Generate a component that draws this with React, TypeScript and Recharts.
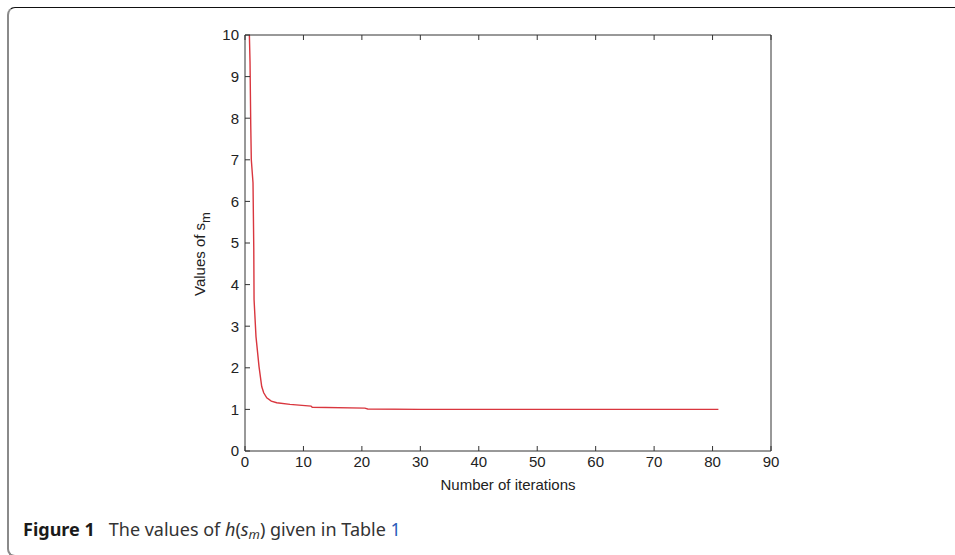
import React from "react";
import { LineChart, Line, XAxis, YAxis } from "recharts";

// Iteration positions and values of s_m
const iterX = [0.75, 0.86, 0.98, 1.08, 1.37, 1.5, 1.55, 1.88, 2.4, 2.86, 3.2, 3.72, 4.5, 5.43, 7.7, 11.3, 11.5, 20.5, 21, 30, 40, 50, 60, 70, 81];
const sValues = [10, 9.35, 7.86, 7.0, 6.45, 4.9, 3.64, 2.75, 2.03, 1.55, 1.4, 1.28, 1.2, 1.16, 1.12, 1.08, 1.05, 1.03, 1.01, 1.0, 1.0, 1.0, 1.0, 1.0, 1.0];
const xTicks = [0, 10, 20, 30, 40, 50, 60, 70, 80, 90];
const yTicks = [0, 1, 2, 3, 4, 5, 6, 7, 8, 9, 10];

const data = iterX.map((x, i) => ({ x, y: sValues[i] }));

const AXIS = "#333";
const FONT = "'Liberation Sans', Arial, Helvetica, sans-serif";
const FS = 15;
const TICK = 5;

const BottomTick = (p: any) => (
  <g>
    <line x1={p.x} x2={p.x} y1={p.y} y2={p.y - TICK} stroke={AXIS} />
    <text x={p.x} y={p.y + 5} dy="0.71em" textAnchor="middle" fontSize={FS} fill="#222" fontFamily={FONT}>
      {p.payload.value}
    </text>
  </g>
);
const TopTick = (p: any) => (
  <line x1={p.x} x2={p.x} y1={p.y} y2={p.y + TICK} stroke={AXIS} />
);
const LeftTick = (p: any) => (
  <g>
    <line x1={p.x} x2={p.x + TICK} y1={p.y} y2={p.y} stroke={AXIS} />
    <text x={p.x - 6} y={p.y} dy="0.36em" textAnchor="end" fontSize={FS} fill="#222" fontFamily={FONT}>
      {p.payload.value}
    </text>
  </g>
);
const RightTick = (p: any) => (
  <line x1={p.x} x2={p.x - TICK} y1={p.y} y2={p.y} stroke={AXIS} />
);

const XLabel = (props: any) => {
  const vb = props.viewBox;
  return (
    <text x={vb.x + vb.width / 2} y={vb.y + 39} textAnchor="middle" fontSize={FS} fill="#222" fontFamily={FONT}>
      Number of iterations
    </text>
  );
};
const YLabel = (props: any) => {
  const vb = props.viewBox;
  const cx = vb.x + 20;
  const cy = vb.y + vb.height / 2 + 11;
  return (
    <text x={cx} y={cy} transform={`rotate(-90 ${cx} ${cy})`} textAnchor="middle" fontSize={FS} fill="#222" fontFamily={FONT}>
      Values of s
      <tspan dy={5} fontSize={13}>m</tspan>
    </text>
  );
};

export default function App() {
  return (
    <div style={{ position: "absolute", left: 0, top: 0, width: 955, height: 555, background: "#fff", overflow: "hidden" }}>
      <div
        style={{
          position: "absolute",
          left: 7,
          top: 7,
          width: 1000,
          height: 550,
          borderTop: "1px solid #111",
          borderLeft: "2px solid #8a8a8a",
          borderBottom: "2px solid #8a8a8a",
          borderRadius: "8px 0 0 8px",
          boxSizing: "border-box",
        }}
      />
      <div style={{ position: "absolute", left: 0, top: 0 }}>
        <LineChart width={955} height={555} data={data} margin={{ top: 25, right: 174, bottom: 59, left: 185 }}>
          <XAxis
            xAxisId="b"
            type="number"
            dataKey="x"
            domain={[0, 90]}
            ticks={xTicks}
            interval={0}
            height={45}
            tickSize={0}
            tickMargin={0}
            tickLine={false}
            axisLine={{ stroke: AXIS }}
            tick={BottomTick}
            label={<XLabel />}
          />
          <XAxis
            xAxisId="t"
            orientation="top"
            type="number"
            dataKey="x"
            domain={[0, 90]}
            ticks={xTicks}
            interval={0}
            height={10}
            tickSize={0}
            tickMargin={0}
            tickLine={false}
            axisLine={{ stroke: AXIS }}
            tick={TopTick}
          />
          <YAxis
            yAxisId="l"
            type="number"
            domain={[0, 10]}
            ticks={yTicks}
            interval={0}
            width={60}
            tickSize={0}
            tickMargin={0}
            tickLine={false}
            axisLine={{ stroke: AXIS }}
            tick={LeftTick}
            label={<YLabel />}
          />
          <YAxis
            yAxisId="r"
            orientation="right"
            type="number"
            domain={[0, 10]}
            ticks={yTicks}
            interval={0}
            width={10}
            tickSize={0}
            tickMargin={0}
            tickLine={false}
            axisLine={{ stroke: AXIS }}
            tick={RightTick}
          />
          <Line
            xAxisId="b"
            yAxisId="l"
            type="linear"
            dataKey="y"
            stroke="#d9363e"
            strokeWidth={1.4}
            dot={false}
            isAnimationActive={false}
          />
        </LineChart>
      </div>
      <div
        style={{
          position: "absolute",
          left: 23,
          top: 517,
          lineHeight: "24px",
          fontFamily: "'Noto Sans', 'Open Sans', sans-serif",
          fontSize: 18,
          color: "#333",
          whiteSpace: "nowrap",
        }}
      >
        <span style={{ fontWeight: 700, color: "#1a1a1a" }}>Figure 1</span>
        <span style={{ marginLeft: 14 }}>
          The values of <i>h</i>(<i>s</i>
          <sub style={{ fontSize: 13, verticalAlign: "-3px" }}><i>m</i></sub>) given in Table{" "}
          <span style={{ color: "#2b5bb8" }}>1</span>
        </span>
      </div>
    </div>
  );
}
